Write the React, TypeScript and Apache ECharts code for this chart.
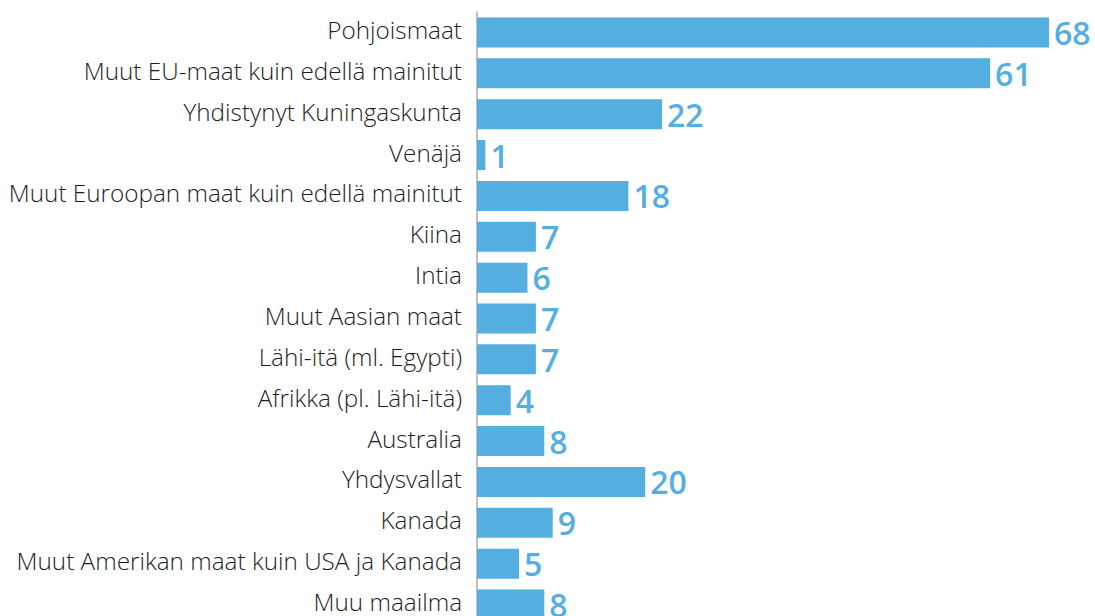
import React, { useEffect, useRef } from "react";
import * as echarts from "echarts";

const categories = [
  "Pohjoismaat",
  "Muut EU-maat kuin edellä mainitut",
  "Yhdistynyt Kuningaskunta",
  "Venäjä",
  "Muut Euroopan maat kuin edellä mainitut",
  "Kiina",
  "Intia",
  "Muut Aasian maat",
  "Lähi-itä (ml. Egypti)",
  "Afrikka (pl. Lähi-itä)",
  "Australia",
  "Yhdysvallat",
  "Kanada",
  "Muut Amerikan maat kuin USA ja Kanada",
  "Muu maailma",
];
const values = [68, 61, 22, 1, 18, 7, 6, 7, 7, 4, 8, 20, 9, 5, 8];

const BLUE = "#55AEE0";

export default function App() {
  const ref = useRef<HTMLDivElement>(null);
  useEffect(() => {
    if (!ref.current) return;
    const chart = echarts.init(ref.current, undefined, { renderer: "svg" });
    chart.setOption({
      animation: false,
      grid: { left: 477, right: 46, top: 12, height: 613, containLabel: false },
      xAxis: {
        type: "value",
        min: 0,
        max: 68,
        show: false,
      },
      yAxis: {
        type: "category",
        data: categories,
        inverse: true,
        axisLine: { show: true, lineStyle: { color: "#aaaaaa", width: 1.5 } },
        axisTick: { show: false },
        axisLabel: {
          color: "#1e1e1e",
          fontFamily: "Open Sans",
          fontWeight: 300,
          fontSize: 24.3,
          margin: 15,
          verticalAlign: "bottom",
          lineHeight: 6,
        },
      },
      series: [
        {
          type: "bar",
          data: values,
          barWidth: 30,
          itemStyle: { color: BLUE },
          label: {
            show: true,
            position: "right",
            distance: 5,
            color: BLUE,
            fontFamily: "Open Sans",
            fontSize: 32,
            fontWeight: 600,
            padding: [0, 0, 3, 0],
          },
        },
      ],
    });
    return () => chart.dispose();
  }, []);
  return (
    <div
      ref={ref}
      style={{ position: "absolute", left: 0, top: 0, width: 1095, height: 640, background: "#fff" }}
    />
  );
}
